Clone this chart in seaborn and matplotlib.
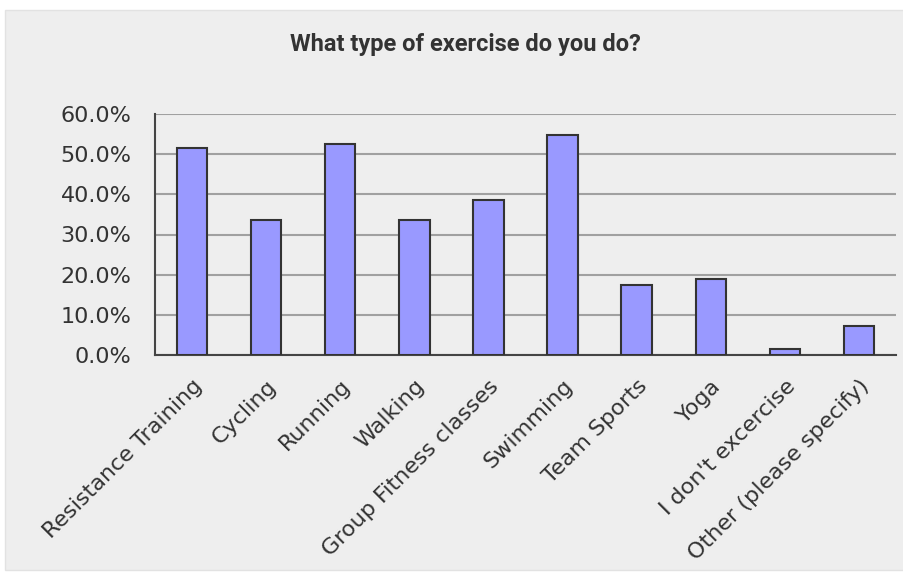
import numpy as np
import pandas as pd
import seaborn as sns
from matplotlib import pyplot as plt
from matplotlib.patches import Rectangle
from matplotlib.ticker import PercentFormatter

# survey answers, share of respondents (%)
exercise = ["Resistance Training", "Cycling", "Running", "Walking", "Group Fitness classes",
            "Swimming", "Team Sports", "Yoga", "I don't excercise", "Other (please specify)"]
share = [51.6, 33.5, 52.5, 33.5, 38.5, 54.8, 17.5, 19.0, 1.4, 7.2]

df = pd.DataFrame({"exercise": exercise, "share": share})

sns.set_style("white")
plt.rcParams["font.family"] = ["DejaVu Sans"]

fig = plt.figure(figsize=(9.04, 5.73), dpi=100)
fig.patch.set_facecolor("white")
fig.patches.append(Rectangle((5 / 904, 3 / 573), 899 / 904, 560 / 573, transform=fig.transFigure,
                             facecolor="#eeeeee", edgecolor="#e2e2e2", lw=1, zorder=-5))

ax = fig.add_axes([155 / 904, 1 - 355 / 573, 741 / 904, 241 / 573])
ax.set_facecolor("none")

sns.barplot(data=df, x="exercise", y="share", color="#9999ff", edgecolor="#333333",
            linewidth=1.5, width=0.41, saturation=1, ax=ax, zorder=3)

ax.set_xlim(-0.5, len(exercise) - 0.5)
ax.set_ylim(0, 60)
ax.set_yticks(np.arange(0, 61, 10))
ax.yaxis.set_major_formatter(PercentFormatter(decimals=1))
ax.grid(axis="y", color="#a0a0a0", lw=1.5, zorder=0)

ax.set_xticks(np.arange(-0.5, len(exercise), 1), minor=True)
ax.tick_params(axis="x", which="major", length=0, pad=15)
ax.tick_params(axis="x", which="minor", length=6, color="#999999", width=1)
ax.tick_params(axis="y", length=5, color="#999999", width=1, pad=12, labelsize=16, labelcolor="#333333")
ax.set_xticks(range(len(exercise)))
ax.set_xticklabels(exercise, rotation=45, ha="right", rotation_mode="anchor",
                   fontsize=16, color="#333333")

for side in ["top", "right"]:
    ax.spines[side].set_visible(False)
for side in ["left", "bottom"]:
    ax.spines[side].set_color("#444444")
    ax.spines[side].set_linewidth(1.5)
ax.set_xlabel("")
ax.set_ylabel("")

fig.text(0.515, 1 - 45 / 573, "What type of exercise do you do?", ha="center", va="center",
         fontsize=17, color="#333333", fontweight="bold", family=["Roboto", "DejaVu Sans"])

fig.savefig("out.png", dpi=100, facecolor="white")
